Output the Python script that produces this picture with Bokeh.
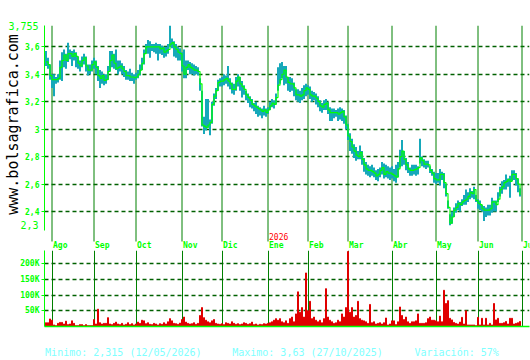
import pandas as pd
from bokeh.plotting import figure
from bokeh.models import FixedTicker, LinearAxis, Range1d
from bokeh.layouts import column
from bokeh.embed import file_html
from bokeh.resources import INLINE
from bokeh.core.properties import value

# ---------------- data ----------------
close = [
    3.49, 3.47, 3.39, 3.36, 3.36, 3.36, 3.37, 3.45, 3.50, 3.54,
    3.50, 3.55, 3.55, 3.53, 3.55, 3.53, 3.48, 3.46, 3.50, 3.52,
    3.46, 3.43, 3.43, 3.47, 3.49, 3.45, 3.39, 3.37, 3.39, 3.355,
    3.36, 3.42, 3.50, 3.54, 3.48, 3.44, 3.45, 3.46, 3.44, 3.42,
    3.39, 3.39, 3.38, 3.38, 3.375, 3.38, 3.40, 3.43, 3.48, 3.55,
    3.60, 3.60, 3.60, 3.60, 3.60, 3.60, 3.60, 3.585, 3.59, 3.56,
    3.57, 3.58, 3.62, 3.63, 3.60, 3.58, 3.56, 3.55, 3.46, 3.40,
    3.45, 3.47, 3.45, 3.44, 3.43, 3.43, 3.42, 3.33, 3.03, 3.02,
    3.01, 3.03, 3.05, 3.18, 3.24, 3.28, 3.34, 3.35, 3.35, 3.36,
    3.37, 3.35, 3.33, 3.29, 3.29, 3.35, 3.38, 3.33, 3.31, 3.29,
    3.25, 3.23, 3.21, 3.18, 3.17, 3.16, 3.15, 3.14, 3.13, 3.14,
    3.12, 3.14, 3.17, 3.19, 3.18, 3.23, 3.32, 3.36, 3.40, 3.43,
    3.38, 3.34, 3.33, 3.33, 3.30, 3.25, 3.25, 3.24, 3.25, 3.28,
    3.30, 3.29, 3.25, 3.24, 3.24, 3.225, 3.20, 3.17, 3.16, 3.18,
    3.19, 3.14, 3.12, 3.12, 3.12, 3.12, 3.11, 3.12, 3.13, 3.09,
    3.03, 2.95, 2.91, 2.87, 2.84, 2.81, 2.80, 2.83, 2.78, 2.74,
    2.71, 2.70, 2.70, 2.69, 2.68, 2.66, 2.67, 2.70, 2.72, 2.67,
    2.69, 2.68, 2.68, 2.67, 2.66, 2.65, 2.71, 2.80, 2.84, 2.78,
    2.74, 2.71, 2.70, 2.70, 2.705, 2.71, 2.72, 2.79, 2.77, 2.745,
    2.745, 2.74, 2.70, 2.68, 2.64, 2.63, 2.63, 2.67, 2.67, 2.61,
    2.53, 2.43, 2.315, 2.36, 2.41, 2.43, 2.46, 2.45, 2.47, 2.48,
    2.49, 2.51, 2.54, 2.53, 2.56, 2.48, 2.46, 2.45, 2.42, 2.41,
    2.41, 2.41, 2.42, 2.47, 2.47, 2.45, 2.49, 2.56, 2.58, 2.61,
    2.62, 2.635, 2.62, 2.67, 2.67, 2.64, 2.60, 2.52,
]
high = [
    3.57, 3.52, 3.47, 3.40, 3.40, 3.38, 3.40, 3.50, 3.56, 3.58,
    3.55, 3.63, 3.58, 3.57, 3.58, 3.56, 3.53, 3.50, 3.53, 3.55,
    3.53, 3.47, 3.47, 3.50, 3.52, 3.50, 3.46, 3.43, 3.42, 3.40,
    3.40, 3.46, 3.57, 3.57, 3.55, 3.58, 3.50, 3.50, 3.48, 3.46,
    3.43, 3.42, 3.44, 3.41, 3.40, 3.41, 3.43, 3.47, 3.52, 3.58,
    3.62, 3.65, 3.64, 3.62, 3.62, 3.63, 3.62, 3.62, 3.61, 3.60,
    3.60, 3.62, 3.755, 3.66, 3.64, 3.62, 3.60, 3.59, 3.56, 3.58,
    3.50, 3.50, 3.49, 3.48, 3.47, 3.46, 3.45, 3.37, 3.28, 3.09,
    3.22, 3.22, 3.07, 3.20, 3.26, 3.30, 3.36, 3.37, 3.38, 3.40,
    3.39, 3.46, 3.37, 3.34, 3.33, 3.38, 3.40, 3.38, 3.35, 3.32,
    3.28, 3.26, 3.24, 3.22, 3.19, 3.20, 3.17, 3.16, 3.15, 3.17,
    3.15, 3.16, 3.20, 3.22, 3.21, 3.26, 3.45, 3.48, 3.49, 3.46,
    3.46, 3.38, 3.38, 3.37, 3.34, 3.29, 3.29, 3.28, 3.30, 3.32,
    3.33, 3.32, 3.31, 3.28, 3.27, 3.26, 3.24, 3.21, 3.19, 3.21,
    3.22, 3.20, 3.16, 3.15, 3.15, 3.14, 3.15, 3.16, 3.15, 3.14,
    3.10, 3.04, 2.97, 2.93, 2.89, 2.87, 2.84, 2.88, 2.84, 2.79,
    2.76, 2.74, 2.73, 2.74, 2.72, 2.70, 2.71, 2.72, 2.76, 2.75,
    2.74, 2.73, 2.72, 2.73, 2.71, 2.74, 2.76, 2.85, 2.92, 2.84,
    2.79, 2.76, 2.72, 2.74, 2.74, 2.74, 2.73, 2.93, 2.80, 2.78,
    2.77, 2.77, 2.73, 2.71, 2.69, 2.68, 2.68, 2.71, 2.69, 2.68,
    2.60, 2.48, 2.38, 2.40, 2.43, 2.46, 2.48, 2.47, 2.49, 2.52,
    2.56, 2.54, 2.57, 2.55, 2.58, 2.52, 2.49, 2.48, 2.45, 2.44,
    2.43, 2.45, 2.45, 2.50, 2.48, 2.48, 2.54, 2.58, 2.62, 2.63,
    2.67, 2.64, 2.66, 2.70, 2.70, 2.68, 2.64, 2.57,
]
low = [
    3.46, 3.44, 3.36, 3.30, 3.24, 3.33, 3.34, 3.36, 3.35, 3.45,
    3.44, 3.49, 3.51, 3.46, 3.50, 3.45, 3.44, 3.42, 3.45, 3.47,
    3.42, 3.39, 3.40, 3.42, 3.44, 3.40, 3.35, 3.30, 3.33, 3.32,
    3.33, 3.36, 3.42, 3.45, 3.44, 3.43, 3.40, 3.42, 3.40, 3.38,
    3.36, 3.36, 3.35, 3.35, 3.33, 3.36, 3.37, 3.39, 3.43, 3.47,
    3.55, 3.55, 3.52, 3.57, 3.56, 3.55, 3.50, 3.55, 3.54, 3.52,
    3.53, 3.55, 3.60, 3.59, 3.53, 3.52, 3.50, 3.50, 3.42, 3.37,
    3.37, 3.43, 3.40, 3.40, 3.39, 3.40, 3.39, 3.28, 3.02, 2.965,
    2.99, 3.01, 2.955, 3.04, 3.17, 3.22, 3.28, 3.31, 3.31, 3.32,
    3.33, 3.31, 3.29, 3.26, 3.25, 3.28, 3.31, 3.28, 3.23, 3.25,
    3.21, 3.19, 3.16, 3.15, 3.13, 3.11, 3.09, 3.10, 3.08, 3.10,
    3.09, 3.11, 3.14, 3.16, 3.15, 3.18, 3.28, 3.33, 3.37, 3.32,
    3.33, 3.28, 3.27, 3.28, 3.24, 3.21, 3.20, 3.19, 3.21, 3.22,
    3.24, 3.25, 3.22, 3.20, 3.21, 3.18, 3.16, 3.13, 3.12, 3.14,
    3.14, 3.11, 3.06, 3.06, 3.08, 3.09, 3.06, 3.07, 3.06, 3.04,
    3.00, 2.92, 2.84, 2.82, 2.79, 2.77, 2.78, 2.78, 2.74, 2.69,
    2.67, 2.66, 2.65, 2.66, 2.65, 2.63, 2.62, 2.65, 2.67, 2.64,
    2.65, 2.64, 2.63, 2.64, 2.62, 2.61, 2.65, 2.72, 2.73, 2.74,
    2.70, 2.68, 2.66, 2.66, 2.67, 2.66, 2.67, 2.75, 2.73, 2.72,
    2.71, 2.72, 2.68, 2.66, 2.61, 2.60, 2.61, 2.59, 2.63, 2.57,
    2.51, 2.42, 2.30, 2.31, 2.36, 2.39, 2.41, 2.40, 2.44, 2.45,
    2.45, 2.47, 2.49, 2.50, 2.49, 2.47, 2.42, 2.41, 2.40, 2.33,
    2.36, 2.37, 2.37, 2.39, 2.40, 2.40, 2.47, 2.51, 2.53, 2.56,
    2.56, 2.58, 2.50, 2.62, 2.63, 2.59, 2.54, 2.51,
]
volume_k = [
    12, 12, 24, 20, 5, 3, 10, 13, 13, 8,
    17, 6, 8, 18, 10, 3, 3, 6, 6, 3,
    6, 3, 3, 3, 22, 8, 55, 12, 8, 10,
    10, 28, 8, 6, 10, 14,
    8, 6, 10, 5, 7, 12, 6, 9, 5, 8,
    14, 10, 20, 18, 9, 12, 7, 6, 10, 8,
    5, 9, 7, 12, 8, 15, 25, 18, 10, 9,
    7, 11, 22, 30, 14, 10, 8, 9, 12, 7,
    10, 35, 60, 28, 20, 15, 12, 18, 22, 10,
    8, 7, 9, 6, 12, 10, 8, 15, 10, 7,
    9, 6, 8, 12, 10, 7, 9, 14, 6, 8,
    5, 7, 6, 9, 8, 10, 12, 15, 20, 25,
    20, 25, 15, 12, 18, 10, 25, 30, 15, 40,
    110, 45, 60, 30, 170, 50, 80, 25, 30, 20,
    15, 20, 12, 25, 120, 30, 20, 15, 10, 12,
    20, 15, 40, 30, 60, 238, 45, 60, 30, 35,
    80, 25, 20, 18, 15, 10, 70, 12, 15, 8, 10,
    12, 8, 12, 27, 5, 8, 18, 18, 6, 15,
    62, 35, 22, 30, 15, 10, 15, 15, 18, 40,
    10, 10, 10, 12, 25, 30, 20, 20, 18, 15,
    33, 15, 115, 73, 82, 26, 21, 13, 10, 8,
    14, 29, 8, 50, 5, 5, 5, 5, 3, 29,
    5, 26, 5, 26, 5, 10, 5, 73, 21, 26,
    10, 10, 12, 16, 8, 26, 26, 8, 10, 12, 16,
]
missing_days = ["2025-09-11", "2026-01-01", "2026-01-06"]
month_names = ["Ago", "Sep", "Oct", "Nov", "Dic", "Ene", "Feb", "Mar", "Abr", "May", "Jun", "Jul"]
price_ticks = [2.4, 2.6, 2.8, 3.0, 3.2, 3.4, 3.6]
price_tick_labels = ["2,4", "2,6", "2,8", "3", "3,2", "3,4", "3,6"]
price_lo, price_hi = 2.3, 3.755
vol_ticks = [50, 100, 150, 200]
vol_tick_labels = ["50K", "100K", "150K", "200K"]
site = "www.bolsagrafica.com"

days = [d for d in pd.bdate_range("2025-07-29", "2026-06-30")
        if d.strftime("%Y-%m-%d") not in missing_days]
n = len(days)
assert n == len(close) == len(high) == len(low) == len(volume_k), (n, len(close), len(high), len(low), len(volume_k))
idx = list(range(n))

month_starts = []
year_marks = []
for i in range(1, n):
    if days[i].month != days[i - 1].month:
        month_starts.append(i)
        if days[i].year != days[i - 1].year:
            year_marks.append((i, str(days[i].year)))
month_starts.append(n)  # start of next month after the data

def fmt(v):
    return f"{v:g}".replace(".", ",")

imin = close.index(min(close))
imax = close.index(max(close))
variation = round((max(close) / min(close) - 1) * 100)

# ---------------- style / layout ----------------
FONT = "DejaVu Sans Mono"
LIME = "#00ff00"
GRID = "#006000"
MONTH = "#008000"
W = 530
LEFT, RIGHT = 44, 1
PX_DAY = 2.0
AUG_PX = 51.5
PX_UNIT = 137.27
P1_TOP, P1_H = 25, 250
frame_w = W - LEFT - RIGHT
x_lo = month_starts[0] - (AUG_PX - LEFT) / PX_DAY
x_hi = x_lo + frame_w / PX_DAY
frame1_h = P1_H - P1_TOP
y_lo = price_hi - frame1_h / PX_UNIT

def y_at(px):
    return price_hi - (px - P1_TOP) / PX_UNIT

xr = Range1d(x_lo, x_hi)

p1 = figure(width=W, height=P1_H, x_range=xr, y_range=Range1d(y_lo, price_hi),
            output_backend="svg", toolbar_location=None, x_axis_location=None,
            min_border_left=LEFT, min_border_right=RIGHT, min_border_top=P1_TOP,
            min_border_bottom=0, outline_line_color=None,
            background_fill_color="white", border_fill_color="white")
p1.xgrid.grid_line_color = None
p1.ygrid.ticker = FixedTicker(ticks=price_ticks + [price_hi])
p1.ygrid.grid_line_color = GRID
p1.ygrid.grid_line_dash = "4 3"
p1.ygrid.grid_line_width = 1.5
ax = p1.yaxis[0]
ax.ticker = FixedTicker(ticks=price_ticks)
ax.major_label_overrides = dict(zip(price_ticks, price_tick_labels))
ax.major_label_text_font = FONT
ax.major_label_text_font_size = "8px"
ax.major_label_text_font_style = "bold"
ax.major_label_text_color = LIME
ax.axis_line_color = LIME
ax.major_tick_line_color = LIME
ax.major_tick_out = 3
ax.major_tick_in = 0
ax.minor_tick_line_color = None
ax.major_label_standoff = 2
ax.bounds = (2.26, 3.79)

# range extremes in a larger font, pulled back in line with the other labels,
# with the site name as this axis' title (leading no-break spaces lift it a little)
ext_ax = LinearAxis(ticker=FixedTicker(ticks=[price_lo, price_hi]),
                    major_label_overrides={price_lo: fmt(price_lo), price_hi: fmt(price_hi)},
                    axis_line_color=None, major_tick_line_color=None,
                    minor_tick_line_color=None, major_tick_out=0, major_tick_in=0,
                    major_label_standoff=-16, major_label_text_font=FONT,
                    major_label_text_font_size="10px", major_label_text_color=LIME,
                    axis_label="\u00a0\u00a0\u00a0" + site, axis_label_standoff=-17,
                    axis_label_text_font=FONT, axis_label_text_font_size="15px",
                    axis_label_text_font_style="normal", axis_label_text_color="#000000",
                    bounds=(2.26, 3.79))
p1.add_layout(ext_ax, "left")

# month separators
p1.segment(x0=month_starts, x1=month_starts, y0=[y_at(241)] * len(month_starts),
           y1=[price_hi] * len(month_starts), line_color=MONTH, line_width=1)
# high-low bars and close line
p1.segment(x0=idx, x1=idx, y0=low, y1=high, line_color="#16a8ba", line_width=2)
p1.step(idx, close, mode="after", line_color=LIME, line_width=1.2)
# month labels
p1.text(x=month_starts, y=[y_at(244.5)] * len(month_starts), text=month_names,
        x_offset=1, text_align="left", text_baseline="middle",
        text_font=value(FONT), text_font_size="8px", text_font_style="bold",
        text_color=LIME)
p1.text(x=[m[0] for m in year_marks], y=[y_at(236)] * len(year_marks),
        text=[m[1] for m in year_marks], x_offset=1, text_align="left",
        text_baseline="middle", text_font=value(FONT), text_font_size="8px",
        text_color="#ff0000")

# ---------------- volume panel ----------------
P2_H = 84
P2_BOTTOM = 8
frame2_h = P2_H - P2_BOTTOM
vol_top = 200 * frame2_h / 63.0
p2 = figure(width=W, height=P2_H, x_range=xr, y_range=Range1d(0, vol_top),
            output_backend="svg", toolbar_location=None,
            min_border_left=LEFT, min_border_right=RIGHT, min_border_top=0,
            min_border_bottom=P2_BOTTOM, outline_line_color=None,
            background_fill_color="white", border_fill_color="white")
p2.xgrid.ticker = FixedTicker(ticks=month_starts)
p2.xgrid.grid_line_color = MONTH
p2.xgrid.grid_line_width = 1
p2.ygrid.ticker = FixedTicker(ticks=vol_ticks)
p2.ygrid.grid_line_color = GRID
p2.ygrid.grid_line_dash = "4 3"
p2.ygrid.grid_line_width = 1.5
xa = p2.xaxis[0]
xa.ticker = FixedTicker(ticks=[])
xa.axis_line_color = LIME
xa.axis_line_width = 1.5
xa.major_tick_line_color = None
xa.minor_tick_line_color = None
xa.major_label_text_font_size = "1px"
xa.major_label_text_alpha = 0
xa.major_label_standoff = 0
va = p2.yaxis[0]
va.ticker = FixedTicker(ticks=vol_ticks)
va.major_label_overrides = dict(zip(vol_ticks, vol_tick_labels))
va.major_label_text_font = FONT
va.major_label_text_font_size = "8px"
va.major_label_text_font_style = "bold"
va.major_label_text_color = LIME
va.axis_line_color = LIME
va.major_tick_line_color = LIME
va.major_tick_out = 3
va.major_tick_in = 0
va.minor_tick_line_color = None
va.major_label_standoff = 2

p2.vbar(x=idx, top=volume_k, width=0.5, color="#e00000")

# ---------------- summary line ----------------
P3_H = 360 - P1_H - P2_H
p3 = figure(width=W, height=P3_H, x_range=Range1d(LEFT, W - RIGHT), y_range=Range1d(P3_H, 0),
            output_backend="svg", toolbar_location=None, x_axis_location=None,
            y_axis_location=None, min_border_left=LEFT, min_border_right=RIGHT,
            min_border_top=0, min_border_bottom=0, outline_line_color=None,
            background_fill_color="white", border_fill_color="white")
p3.xgrid.grid_line_color = None
p3.ygrid.grid_line_color = None
summary_text = [
    f"Minimo: {fmt(close[imin])} ({days[imin]:%d/%m/%Y})",
    f"Maximo: {fmt(close[imax])} ({days[imax]:%d/%m/%Y})",
    f"Variación: {variation}%",
]
summary_x = [44.6, 231.7, 414.0]
p3.text(x=summary_x, y=[352 - P1_H - P2_H] * 3, text=summary_text,
        text_align="left", text_baseline="middle", text_font=value(FONT),
        text_font_size="10px", text_color="#80ffff")

layout = column(p1, p2, p3)
open("out.html", "w").write(file_html(layout, INLINE))
